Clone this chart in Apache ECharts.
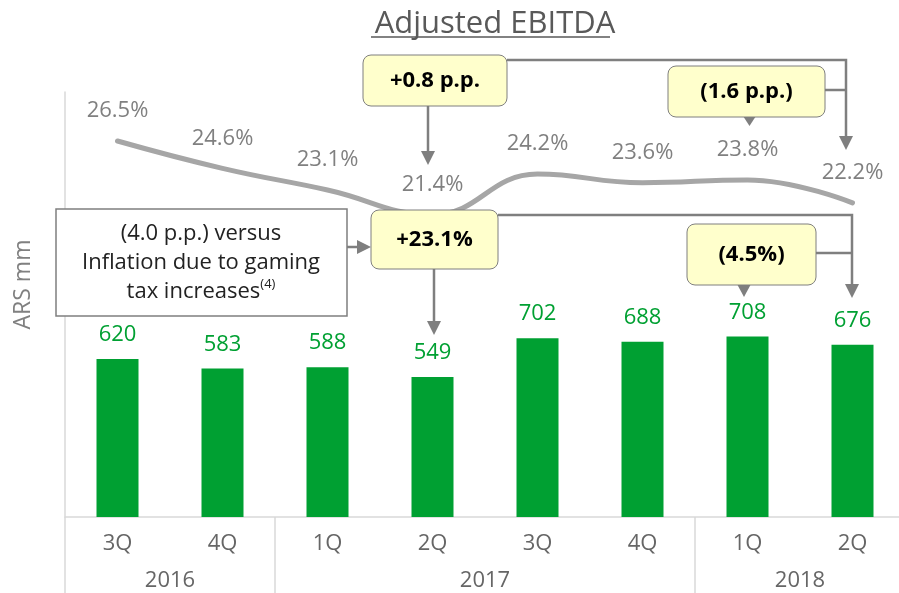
<!DOCTYPE html>
<html>
<head>
<meta charset="utf-8">
<script src="https://cdn.jsdelivr.net/npm/echarts@6/dist/echarts.min.js"></script>
<style>
html, body { margin: 0; padding: 0; background: #fff; }
#chart { width: 899px; height: 593px; }
</style>
</head>
<body>
<div id="chart"></div>
<script>
// data
var quarters = ['3Q', '4Q', '1Q', '2Q', '3Q', '4Q', '1Q', '2Q'];
var ebitda = [620, 583, 588, 549, 702, 688, 708, 676];
var margin = [26.5, 24.6, 23.1, 21.4, 24.2, 23.6, 23.8, 22.2];
var years = ['2016', '2017', '2018'];
var yearPos = [1, 4, 7];
var yearBreaks = [0, 2, 6, 8];

var font = 'Open Sans';
var grey = '#7f7f7f';
var yellow = '#ffffcc';

var app = echarts.init(document.getElementById('chart'));

function tri(pts) {
    return { type: 'polygon', z: 100, shape: { points: pts }, style: { fill: grey } };
}
function seg(pts) {
    return { type: 'polyline', z: 100, shape: { points: pts }, style: { stroke: grey, lineWidth: 2.5, fill: null } };
}
function callout(x, y, w, h, txt) {
    return {
        type: 'rect', z: 101,
        shape: { x: x, y: y, width: w, height: h, r: 8 },
        style: { fill: yellow, stroke: grey, lineWidth: 1 },
        textContent: { style: { text: txt, font: 'bold 22px "' + font + '"', fill: '#000' }, z: 102 },
        textConfig: { position: 'inside' }
    };
}

var graphics = [
    // title underline
    { type: 'line', z: 100, shape: { x1: 371, y1: 37, x2: 610, y2: 37 }, style: { stroke: '#595959', lineWidth: 1.5 } },

    // +0.8 p.p. and margin bracket
    seg([[428, 106], [428, 152]]),
    tri([[421, 151], [435, 151], [428, 165]]),
    seg([[507, 60], [846, 60], [846, 137]]),
    tri([[839, 136], [853, 136], [846, 150]]),
    seg([[825, 90], [846, 90]]),
    tri([[743, 116], [756, 116], [749.5, 126]]),
    callout(363, 55, 144, 51, '+0.8 p.p.'),
    callout(668, 66, 157, 51, '(1.6 p.p.)'),

    // +23.1% and ebitda bracket
    seg([[434, 269], [434, 322]]),
    tri([[427, 321], [441, 321], [434, 335]]),
    seg([[498, 215], [852, 215], [852, 285]]),
    tri([[845, 284], [859, 284], [852, 298]]),
    seg([[816, 253], [852, 253]]),
    tri([[737, 284], [751, 284], [744, 297]]),
    callout(371, 210, 127, 59, '+23.1%'),
    callout(687, 224, 129, 61, '(4.5%)'),

    // inflation note
    seg([[347, 247], [358, 247]]),
    tri([[357, 240], [357, 254], [371, 247]]),
    {
        type: 'rect', z: 101,
        shape: { x: 56, y: 209, width: 291, height: 107 },
        style: { fill: '#fff', stroke: grey, lineWidth: 1.5 }
    },
    {
        type: 'text', z: 102, x: 201, y: 263,
        style: {
            text: '(4.0 p.p.) versus\nInflation due to gaming\ntax increases{s|(4)}',
            font: '22px "' + font + '"', fill: '#222', align: 'center', verticalAlign: 'middle',
            lineHeight: 29,
            rich: { s: { fontSize: 13, fontFamily: font, verticalAlign: 'top', padding: [0, 0, 10, 0] } }
        }
    }
];

var option = {
    animation: false,
    textStyle: { fontFamily: font },
    title: {
        text: 'Adjusted EBITDA',
        left: 490, top: 4, textAlign: 'center',
        textStyle: { fontSize: 31, fontWeight: 'normal', color: '#595959', fontFamily: font }
    },
    grid: { left: 65, top: 92, width: 840, bottom: 76, outerBoundsMode: 'none' },
    xAxis: [{
        type: 'category',
        data: quarters,
        axisLine: { lineStyle: { color: '#d9d9d9', width: 1.5 } },
        axisTick: { show: false },
        axisLabel: { color: '#666', fontSize: 22, margin: 16 }
    }, {
        type: 'value',
        position: 'bottom',
        min: 0, max: 8,
        axisLine: { show: false },
        splitLine: { show: false },
        axisTick: { show: true, customValues: yearBreaks, length: 76, lineStyle: { color: '#d9d9d9', width: 1.5 } },
        axisLabel: {
            customValues: yearPos, color: '#666', fontSize: 22, margin: 53,
            formatter: function(v) { return years[yearPos.indexOf(v)]; }
        }
    }],
    yAxis: [{
        type: 'value',
        min: 0, max: 1668,
        name: 'ARS mm',
        nameLocation: 'middle',
        nameGap: 30,
        nameRotate: 90,
        nameTextStyle: { color: '#808080', fontSize: 23, padding: [0, 0, 0, 40] },
        axisLine: { show: true, lineStyle: { color: '#d9d9d9', width: 1.5 } },
        axisTick: { show: false },
        axisLabel: { show: false },
        splitLine: { show: false }
    }, {
        type: 'value',
        min: 0.4, max: 29.9,
        show: false
    }],
    series: [{
        name: 'Adjusted EBITDA',
        type: 'bar',
        data: ebitda,
        barWidth: 42,
        itemStyle: { color: '#00a032' },
        label: { show: true, position: 'top', distance: 13, color: '#00a032', fontSize: 22 }
    }, {
        name: 'Margin',
        type: 'line',
        yAxisIndex: 1,
        data: margin,
        smooth: 0.45,
        showSymbol: true,
        symbolSize: 0,
        lineStyle: { color: '#a6a6a6', width: 5, cap: 'round' },
        itemStyle: { color: '#a6a6a6' },
        label: { show: true, position: 'top', distance: 19, color: '#808080', fontSize: 22, formatter: '{c}%' }
    }],
    graphic: graphics
};

app.setOption(option);
</script>
</body>
</html>
